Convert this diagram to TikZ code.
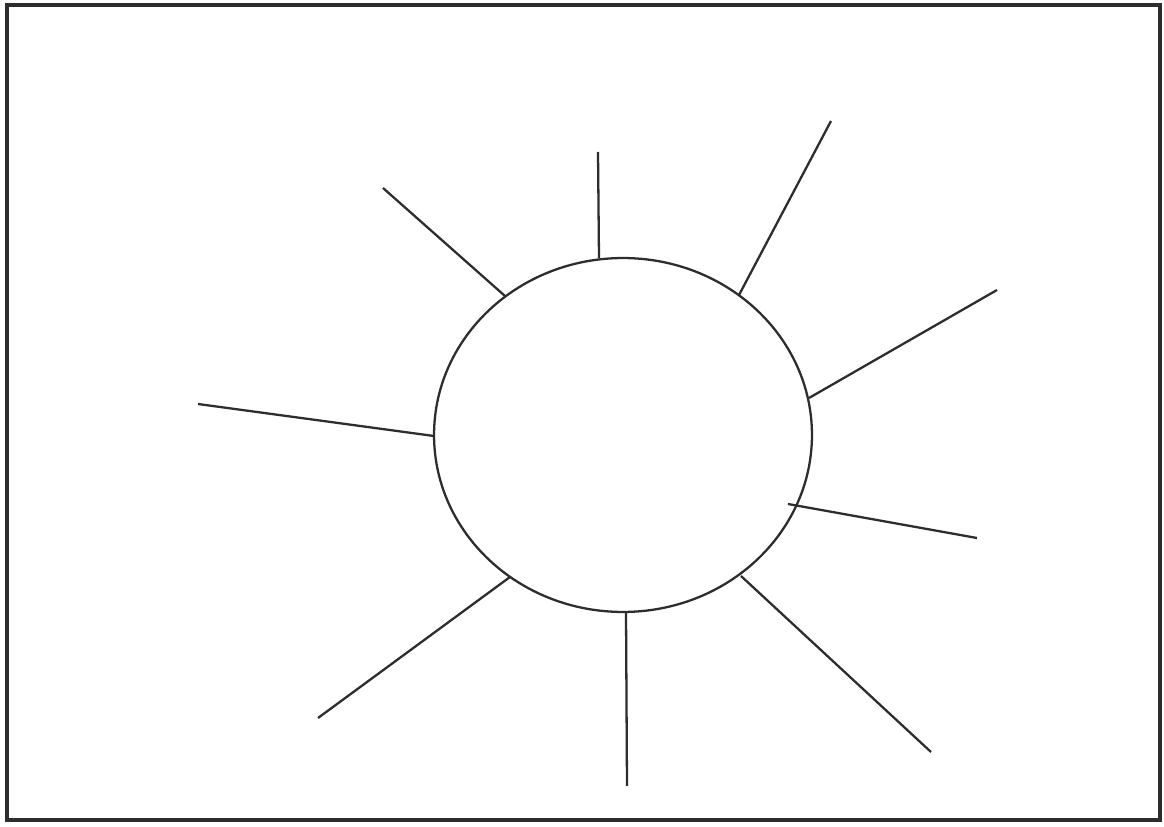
\documentclass[tikz,border=0pt]{standalone}
\usepackage{tikz}
\usetikzlibrary{shapes.geometric}
\definecolor{InkGray}{RGB}{45, 45, 45}
\tikzset{
  frame/.style={draw=InkGray, line width=1.9pt},
  sunbody/.style={ellipse, draw=InkGray, line width=1.3pt, fill=white,
                  minimum width=7.56cm, minimum height=7.08cm, inner sep=0pt},
  ray/.style={draw=InkGray, line width=1.3pt},
}

\begin{document}
\begin{tikzpicture}[x=0.02cm, y=-0.02cm]
      % page and frame
      \useasboundingbox[fill=white] (0,0) rectangle (1164,827);
      \draw[frame] (7,5) rectangle (1160,820);

      % sun
      \node[sunbody] (sun) at (623,435) {};

      % ray ends
      \coordinate (t1) at (599,258);  \coordinate (t2) at (598,152);
      \coordinate (tl1) at (505,296); \coordinate (tl2) at (383,188);
      \coordinate (tr1) at (739,295); \coordinate (tr2) at (831,121);
      \coordinate (ru1) at (809,398); \coordinate (ru2) at (997,290);
      \coordinate (l1) at (434,436);  \coordinate (l2) at (198,404);
      \coordinate (rl1) at (788,504); \coordinate (rl2) at (977,538);
      \coordinate (bl1) at (510,577); \coordinate (bl2) at (318,718);
      \coordinate (b1) at (626,612);  \coordinate (b2) at (627,786);
      \coordinate (br1) at (741,576); \coordinate (br2) at (931,752);

      % rays
      \foreach \r in {t, tl, tr, ru, l, rl, bl, b, br}
        \draw[ray] (\r1) -- (\r2);
    \end{tikzpicture}
\end{document}
